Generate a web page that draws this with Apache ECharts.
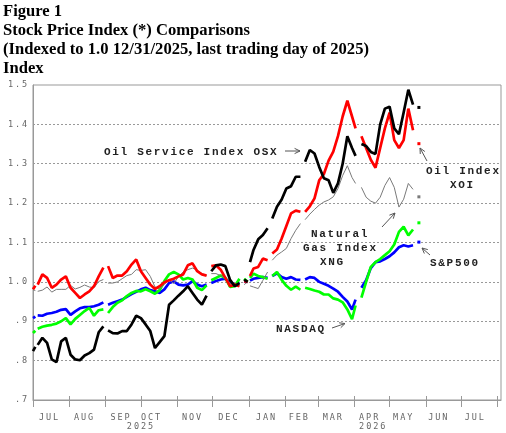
<!DOCTYPE html>
<html><head><meta charset="utf-8">
<script src="https://cdn.jsdelivr.net/npm/echarts@6/dist/echarts.min.js"></script>
<style>html,body{margin:0;padding:0;background:#fff}#c{width:506px;height:433px}</style>
</head><body><div id="c"></div>
<script>
// ---------- data ----------
const dates = [
 '2025-07-01','2025-07-03','2025-07-04','2025-07-05','2025-07-09','2025-07-13','2025-07-17','2025-07-21','2025-07-25','2025-07-29',
 '2025-08-02','2025-08-06','2025-08-10','2025-08-14','2025-08-18','2025-08-22','2025-08-26','2025-08-30','2025-09-01','2025-09-03',
 '2025-09-07','2025-09-11','2025-09-15','2025-09-19','2025-09-23','2025-09-27','2025-10-01','2025-10-05','2025-10-09','2025-10-13',
 '2025-10-17','2025-10-21','2025-10-25','2025-10-29','2025-11-02','2025-11-06','2025-11-10','2025-11-14','2025-11-18','2025-11-22',
 '2025-11-26','2025-11-27','2025-11-30','2025-12-04','2025-12-08','2025-12-12','2025-12-16','2025-12-20','2025-12-24','2025-12-25',
 '2025-12-28','2025-12-31','2026-01-01','2026-01-02','2026-01-05','2026-01-09','2026-01-13','2026-01-17','2026-01-19','2026-01-21',
 '2026-01-25','2026-01-29','2026-02-02','2026-02-06','2026-02-10','2026-02-14','2026-02-16','2026-02-18','2026-02-22','2026-02-26',
 '2026-03-02','2026-03-06','2026-03-10','2026-03-14','2026-03-18','2026-03-22','2026-03-26','2026-03-30','2026-04-02','2026-04-03',
 '2026-04-07','2026-04-11','2026-04-15','2026-04-19','2026-04-23','2026-04-27','2026-05-01','2026-05-05','2026-05-09','2026-05-13',
 '2026-05-17','2026-05-21','2026-05-25','2026-05-26'
];
const osx = [
 0.824,0.835,null,0.840,0.858,0.845,0.803,0.796,0.849,0.858,
 0.815,0.803,0.801,0.813,0.819,0.828,0.872,0.887,null,0.877,
 0.870,0.869,0.875,0.875,0.892,0.914,0.908,0.892,0.875,0.832,
 0.847,0.862,0.942,0.953,0.965,0.976,0.989,0.972,0.955,0.942,
 0.965,null,1.027,1.042,1.044,1.040,1.005,0.989,0.997,null,
 1.006,1.000,null,1.050,1.081,1.108,1.119,1.136,null,1.161,
 1.191,1.209,1.237,1.243,1.267,1.267,null,1.305,1.335,1.326,
 1.292,1.263,1.258,1.226,1.250,1.300,1.370,1.340,1.320,null,
 1.350,1.345,1.330,1.325,1.400,1.440,1.445,1.390,1.375,1.430,
 1.488,1.450,null,1.443
];
const xoi = [
 0.981,0.990,null,0.993,1.019,1.010,0.985,0.993,1.006,1.014,
 0.985,0.972,0.959,0.968,0.976,0.989,1.014,1.036,null,1.040,
 1.010,1.016,1.016,1.027,1.044,1.057,1.027,1.010,0.993,0.982,
 0.989,0.999,1.004,1.008,1.014,1.019,1.042,1.047,1.027,1.019,
 1.016,null,1.040,1.042,1.031,1.010,0.989,0.993,0.989,null,
 1.002,1.000,null,1.015,1.034,1.038,1.059,1.055,null,1.072,
 1.082,1.110,1.142,1.174,1.181,1.178,null,1.178,1.192,1.212,
 1.258,1.274,1.308,1.331,1.370,1.420,1.460,1.420,1.390,null,
 1.370,1.340,1.310,1.290,1.340,1.390,1.430,1.360,1.340,1.360,
 1.440,1.385,null,1.351
];
const xng = [
 0.980,0.978,null,0.976,0.979,0.987,0.974,0.981,0.981,0.981,
 0.991,0.982,0.986,0.992,0.987,0.985,1.001,1.006,null,0.997,
 0.997,1.000,1.008,1.016,1.019,1.031,1.029,1.031,1.014,0.987,
 0.982,0.993,1.006,0.996,1.013,1.025,1.031,1.035,1.030,1.021,
 1.016,null,1.021,1.021,1.016,1.010,0.997,0.991,0.989,null,
 0.993,1.000,null,0.990,0.987,0.983,1.004,1.025,null,1.055,
 1.068,1.076,1.085,1.110,1.131,1.148,null,1.158,1.172,1.184,
 1.195,1.203,1.208,1.216,1.237,1.270,1.295,1.265,1.250,null,
 1.240,1.215,1.205,1.200,1.215,1.245,1.265,1.240,1.190,1.210,
 1.250,1.235,null,1.216
];
const sp500 = [
 0.908,0.912,null,0.915,0.914,0.919,0.921,0.924,0.929,0.931,
 0.916,0.925,0.933,0.936,0.936,0.938,0.942,0.948,null,0.942,
 0.947,0.951,0.955,0.962,0.969,0.975,0.981,0.985,0.979,0.976,
 0.972,0.981,0.997,1.001,0.993,0.991,0.993,1.002,0.993,0.989,
 0.993,null,0.997,1.002,1.006,1.008,0.999,0.993,0.999,null,
 1.002,1.000,null,1.003,1.008,1.010,1.012,1.010,null,1.015,
 1.022,1.012,1.008,1.012,1.006,1.005,null,1.006,1.012,1.010,
 1.000,0.995,0.990,0.983,0.975,0.962,0.950,0.930,0.955,null,
 0.985,1.004,1.035,1.050,1.052,1.058,1.065,1.075,1.088,1.093,
 1.090,1.093,null,1.101
];
const nasdaq = [
 0.870,0.876,null,0.881,0.886,0.889,0.891,0.894,0.900,0.908,
 0.892,0.906,0.916,0.926,0.934,0.914,0.928,0.930,null,0.921,
 0.936,0.947,0.953,0.964,0.972,0.977,0.976,0.981,0.976,0.970,
 0.979,1.002,1.019,1.025,1.019,1.006,1.010,1.006,0.985,0.979,
 0.991,null,1.004,1.010,1.016,1.010,0.987,0.989,1.008,null,
 1.008,1.000,null,1.010,1.021,1.015,1.012,1.008,null,1.015,
 1.025,1.005,0.990,0.980,0.988,0.980,null,0.985,0.982,0.978,
 0.975,0.968,0.968,0.958,0.955,0.948,0.930,0.905,0.940,null,
 0.960,1.000,1.038,1.050,1.058,1.068,1.078,1.095,1.127,1.140,
 1.118,1.133,null,1.150
];
const monthTicks = ['2025-07-01','2025-08-01','2025-09-01','2025-10-01','2025-11-01','2025-12-01','2026-01-01',
 '2026-02-01','2026-03-01','2026-04-01','2026-05-01','2026-06-01','2026-07-01','2026-08-01'];
const monthLabelDates = ['2025-07-15','2025-08-14','2025-09-14','2025-10-10','2025-11-14','2025-12-15','2026-01-16',
 '2026-02-13','2026-03-14','2026-04-14','2026-05-13','2026-06-12','2026-07-13'];
const monthLabels = ['JUL','AUG','SEP','OCT','NOV','DEC','JAN','FEB','MAR','APR','MAY','JUN','JUL'];
const yearLabelDates = ['2025-10-01','2026-04-17'];
const yearLabels = ['2025','2026'];
const titleLines = ['Figure 1','Stock Price Index (*) Comparisons','(Indexed to 1.0 12/31/2025, last trading day of 2025)','Index'];
const annotationTexts = ['Oil Service Index OSX','Oil Index','XOI','Natural','Gas Index','XNG','S&P500','NASDAQ'];

// ---------- layout (pixels) ----------
const annotationPos = [[104,152],[426,171],[450,185],[311,234],[303,248],[320,262.5],[430,263],[276,329]];
const arrowPos = [[285,151,300,151],[427,161,420,148],[382,227,395,213],[430,255,422,248],[332,328,345,323.5]];

// letter spacing for the spaced-out fonts of the original
const LS = {'Liberation Mono':'1.7px','DejaVu Sans Mono':'1.9px'};
(function(){
  const P = CanvasRenderingContext2D.prototype, orig = P.fillText;
  P.fillText = function(){
    if ('letterSpacing' in this){
      let s = '0px';
      for (const k in LS) if (this.font.indexOf(k) !== -1){ s = LS[k]; break; }
      this.letterSpacing = s;
    }
    return orig.apply(this, arguments);
  };
})();

const ts = s => { const p = s.split('-').map(Number); return new Date(p[0], p[1]-1, p[2]).getTime(); };
const nearest = (arr, v) => { let b = 0; for (let i = 1; i < arr.length; i++) if (Math.abs(arr[i]-v) < Math.abs(arr[b]-v)) b = i; return b; };
const tickTimes = monthTicks.map(ts), labelTimes = monthLabelDates.map(ts), yearTimes = yearLabelDates.map(ts);
const xMin = ts('2025-07-01'), xMax = ts('2026-08-04');
const axisFont = {fontFamily:'DejaVu Sans Mono', fontSize:8.5, color:'#666'};

function build(vals, color){
  return vals.map((v, i) => {
    const it = {value:[ts(dates[i]), v === null ? '-' : v]};
    if (i === vals.length - 1){ it.symbol = 'rect'; it.symbolSize = 3; it.itemStyle = {color: color}; }
    return it;
  });
}
const defs = [
  {name:'S&P500', vals:sp500, color:'#0000ff', w:2.7},
  {name:'NASDAQ', vals:nasdaq, color:'#00ff00', w:2.7},
  {name:'Natural Gas Index XNG', vals:xng, color:'#7a7a7a', w:1},
  {name:'Oil Index XOI', vals:xoi, color:'#ff0000', w:2.7},
  {name:'Oil Service Index OSX', vals:osx, color:'#000000', w:2.7}
];

function arrow(a){
  const [x1,y1,x2,y2] = a, ang = Math.atan2(y2-y1, x2-x1), L = 6, s = 0.45;
  const st = {stroke:'#555', lineWidth:1, fill:null};
  return [
    {type:'polyline', silent:true, shape:{points:[[x1,y1],[x2,y2]]}, style:st},
    {type:'polyline', silent:true, shape:{points:[[x2-L*Math.cos(ang-s), y2-L*Math.sin(ang-s)],[x2,y2],[x2-L*Math.cos(ang+s), y2-L*Math.sin(ang+s)]]}, style:st}
  ];
}
const graphics = [];
annotationTexts.forEach((t, i) => graphics.push({type:'text', silent:true, x:annotationPos[i][0], y:annotationPos[i][1],
  style:{text:t, font:'bold 11px "Liberation Mono"', fill:'#222', align:'left', verticalAlign:'middle'}}));
arrowPos.forEach(a => graphics.push(...arrow(a)));

const chart = echarts.init(document.getElementById('c'), null, {renderer:'canvas'});
chart.setOption({
  animation:false,
  backgroundColor:'#fff',
  title:{text:titleLines.join('\n'), left:3, top:2, padding:0,
    textStyle:{fontFamily:'Liberation Serif', fontWeight:'bold', fontSize:16.6, lineHeight:19, color:'#000'}},
  grid:{left:33, top:85, width:468, height:315, show:true, borderColor:'#999', borderWidth:1, containLabel:false, outerBoundsMode:'none'},
  xAxis:[
    {type:'value', min:xMin, max:xMax, position:'bottom', scale:true,
     axisLine:{show:true, lineStyle:{color:'#999'}},
     axisTick:{show:true, inside:false, length:7, customValues:tickTimes, lineStyle:{color:'#999'}},
     axisLabel:Object.assign({customValues:labelTimes, margin:13, formatter:v => monthLabels[nearest(labelTimes, v)]}, axisFont),
     splitLine:{show:false}},
    {type:'value', min:xMin, max:xMax, position:'bottom', scale:true,
     axisLine:{show:false},
     axisTick:{show:true, inside:true, length:4, customValues:tickTimes, lineStyle:{color:'#999'}},
     axisLabel:Object.assign({customValues:yearTimes, margin:22, formatter:v => yearLabels[nearest(yearTimes, v)]}, axisFont),
     splitLine:{show:false}}
  ],
  yAxis:{type:'value', min:0.7, max:1.5, interval:0.1,
    axisLine:{show:true, lineStyle:{color:'#999'}}, axisTick:{show:false},
    axisLabel:Object.assign({margin:4, formatter:v => { const s = (+v).toFixed(1); return s.charAt(0) === '0' ? s.slice(1) : s; }}, axisFont),
    splitLine:{show:true, showMinLine:false, showMaxLine:false, lineStyle:{color:'#999', type:[2,2], width:1}}},
  series:defs.map(d => ({
    name:d.name, type:'line', xAxisIndex:0, data:build(d.vals, d.color),
    showSymbol:true, showAllSymbol:true, symbol:'none', connectNulls:false,
    lineStyle:{color:d.color, width:d.w}, itemStyle:{color:d.color},
    emphasis:{disabled:true}, silent:true
  })),
  graphic:graphics
});
</script></body></html>
